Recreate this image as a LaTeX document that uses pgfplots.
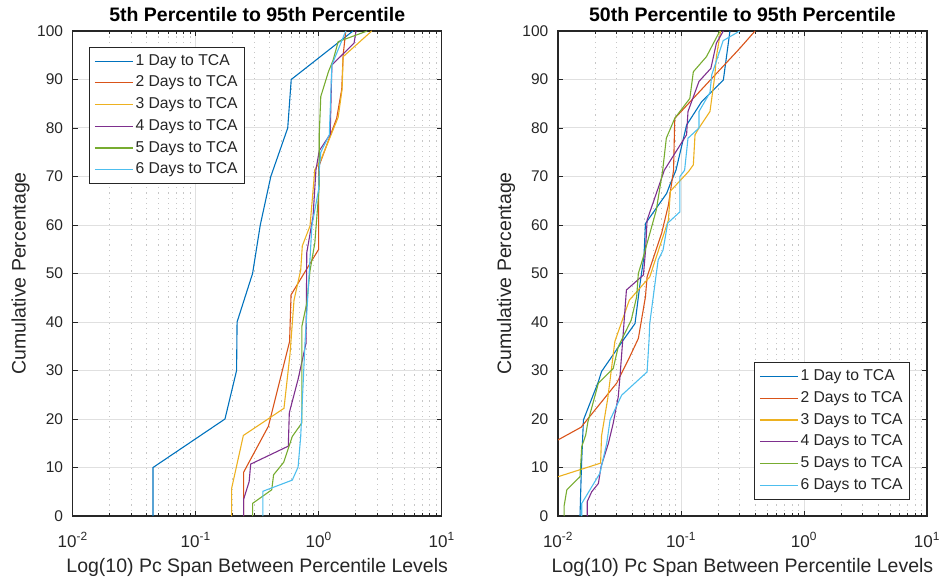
\documentclass[border=0pt]{standalone}
\usepackage{fontspec}
\setmainfont{Liberation Sans}
\usepackage{pgfplots}
\pgfplotsset{compat=1.18}
\pgfkeys{/pgf/number format/assume math mode=true}
\definecolor{c1}{rgb}{0,0.447,0.741}
\definecolor{c2}{rgb}{0.85,0.325,0.098}
\definecolor{c3}{rgb}{0.929,0.694,0.125}
\definecolor{c4}{rgb}{0.494,0.184,0.556}
\definecolor{c5}{rgb}{0.466,0.674,0.188}
\definecolor{c6}{rgb}{0.301,0.745,0.933}
\definecolor{axc}{HTML}{262626}
\pgfplotsset{legend image code/.code={\draw[#1] (0pt,0pt) -- (38pt,0pt);}}
\pgfplotsset{
  every axis/.append style={
  scale only axis, width=369pt, height=485pt,
  xmin=0.01, xmax=10, ymin=0, ymax=100,
  xtick={0.01,0.1,1,10},
  xticklabels={10\textsuperscript{-2},10\textsuperscript{-1},10\textsuperscript{0},10\textsuperscript{1}},
  minor xtick={0.02,0.03,0.04,0.05,0.06,0.07,0.08,0.09,0.2,0.3,0.4,0.5,0.6,0.7,0.8,0.9,2,3,4,5,6,7,8,9},
  ytick={0,10,20,30,40,50,60,70,80,90,100},
  xmajorgrids, ymajorgrids, xminorgrids,
  major grid style={color=black!12, line width=1pt},
  minor grid style={color=black!22, dash pattern=on 1.2pt off 4pt, line width=0.9pt},
  axis line style={axc, line width=1.1pt},
  tick style={axc, line width=0.9pt},
  major tick length=5pt, minor tick length=3pt,
  xticklabel style={font=\fontsize{17}{17}\selectfont, text=axc, anchor=base, inner sep=0pt, yshift=-31pt},
  yticklabel style={font=\fontsize{15.5}{16}\selectfont, text=axc, anchor=east, inner sep=0pt, xshift=-9.5pt},
  label style={font=\fontsize{19.5}{20}\selectfont, text=axc},
  xlabel style={at={(axis description cs:0.5,-0.1175)}, anchor=base},
  ylabel style={at={(axis description cs:-0.141,0.5)}, anchor=center},
  title style={font=\bfseries\fontsize{19.5}{20}\selectfont, text=black, at={(axis description cs:0.5,1.0192)}, anchor=base, yshift=-5.5pt},
  legend style={draw=axc, line width=0.8pt, fill=white, font=\fontsize{15.7}{16}\selectfont, text=axc, row sep=3.1pt, inner xsep=5pt, inner ysep=4.5pt, cells={anchor=west}, nodes={inner sep=2pt, text height=11.3pt, text depth=3.3pt}},
  xlabel={Log(10) Pc Span Between Percentile Levels},
  ylabel={Cumulative Percentage},
 },
 every axis plot/.append style={line width=1.1pt, mark=none},
}
\begin{document}
\begin{tikzpicture}
\useasboundingbox (0,0) rectangle (940pt,582pt);
\begin{semilogxaxis}[at={(72.7pt,66pt)}, anchor=south west,
  title={5th Percentile to 95th Percentile},
  legend style={at={(0.0442,0.967)}, anchor=north west}]
\addplot[c1] coordinates {(0.045,0)(0.045,10)(0.173,20)(0.215,30)(0.217,40)(0.29,50)(0.335,60)(0.408,70)(0.56,80)(0.598,90)(1.9,100)};
\addplot[c2] coordinates {(0.245,0)(0.245,9)(0.39,18.5)(0.58,36)(0.596,45.6)(1.0,55)(1.0,72)(1.40,82)(1.54,88)(1.58,95)(1.66,100)};
\addplot[c3] coordinates {(0.196,0)(0.196,5.7)(0.244,16.6)(0.522,22.2)(0.585,33.5)(0.63,44.5)(0.714,50.7)(0.736,55.7)(0.85,59.8)(0.93,71.4)(1.04,73.4)(1.44,82.2)(1.55,88)(1.58,94.7)(2.70,100)};
\addplot[c4] coordinates {(0.245,0)(0.245,3.4)(0.272,7.1)(0.28,10.7)(0.566,14.4)(0.577,21.3)(0.68,28.2)(0.79,35.7)(0.80,54.3)(0.90,61.8)(0.95,71.4)(1.01,75.3)(1.24,78.7)(1.28,93)(1.94,97.5)(2.01,100)};
\addplot[c5] coordinates {(0.29,0)(0.29,2.6)(0.415,5.4)(0.43,8.5)(0.52,11.1)(0.61,16.4)(0.73,19.2)(0.73,39.1)(0.80,43.9)(0.85,50.6)(0.93,56.3)(1.01,68)(1.01,78.6)(1.04,86.5)(1.2,91.6)(1.31,94)(1.44,97.8)(2.48,100)};
\addplot[c6] coordinates {(0.352,0)(0.352,5.1)(0.61,7.4)(0.68,10.1)(0.714,16.4)(0.774,35.7)(0.84,50.7)(0.88,59.8)(1.0,67.4)(1.01,71.4)(1.04,75)(1.22,78.6)(1.28,93)(1.66,100)};
\legend{1 Day to TCA,2 Days to TCA,3 Days to TCA,4 Days to TCA,5 Days to TCA,6 Days to TCA}
\end{semilogxaxis}
\begin{semilogxaxis}[at={(558pt,66pt)}, anchor=south west,
  title={50th Percentile to 95th Percentile},
  legend style={at={(0.954,0.0344)}, anchor=south east}]
\addplot[c1] coordinates {(0.0151,0)(0.0155,10)(0.0161,19.8)(0.0213,27.7)(0.0226,29.8)(0.034,36.3)(0.0423,39.7)(0.0465,48)(0.05,53.5)(0.0514,60.3)(0.0764,66.5)(0.081,68.2)(0.091,71.3)(0.111,80.6)(0.147,85.4)(0.221,89.9)(0.25,100)};
\addplot[c2] coordinates {(0.00075,0)(0.0154,18.3)(0.030,27.4)(0.0373,32.2)(0.045,36.6)(0.0514,45.2)(0.053,49.3)(0.0696,58.3)(0.079,64.1)(0.087,71.3)(0.089,82)(0.30,96.4)(0.40,100)};
\addplot[c3] coordinates {(0.001,0)(0.0222,10.9)(0.0226,16.5)(0.0254,24.3)(0.029,36)(0.038,44.5)(0.0557,49.3)(0.079,61)(0.082,67)(0.115,71)(0.126,72.4)(0.13,78.6)(0.14,80)(0.172,83.4)(0.188,90.6)(0.194,94.7)(0.21,100)};
\addplot[c4] coordinates {(0.0173,0)(0.0173,3)(0.0188,5)(0.0213,6.7)(0.0224,10.2)(0.0257,15)(0.0281,19.1)(0.0309,24.6)(0.0319,28.7)(0.0336,36.3)(0.036,46.6)(0.0495,49.7)(0.0515,54.8)(0.053,61)(0.0732,71.3)(0.111,78.6)(0.114,83.4)(0.14,89.6)(0.175,92.3)(0.194,97.5)(0.221,100)};
\addplot[c5] coordinates {(0.0112,0)(0.0112,2)(0.0118,5.4)(0.0151,8.1)(0.0156,14.3)(0.0168,16.7)(0.0175,19.4)(0.0213,27.4)(0.0281,30.4)(0.0309,34.9)(0.0394,40.4)(0.0436,45.2)(0.045,50)(0.0495,53.5)(0.063,63.1)(0.071,71.3)(0.076,77.9)(0.089,82)(0.118,86.1)(0.126,91.6)(0.161,94.7)(0.207,100)};
\addplot[c6] coordinates {(0.0156,0)(0.0156,2.6)(0.0188,6)(0.0219,8.8)(0.0249,15)(0.0265,19.8)(0.0329,24.9)(0.053,29.7)(0.055,36.3)(0.0557,39.7)(0.063,50)(0.0653,52.8)(0.0714,54.8)(0.078,60.4)(0.098,62.7)(0.098,70)(0.107,71.3)(0.114,77.9)(0.14,80)(0.14,83.4)(0.172,87.3)(0.178,91)(0.22,98)(0.30,100)};
\legend{1 Day to TCA,2 Days to TCA,3 Days to TCA,4 Days to TCA,5 Days to TCA,6 Days to TCA}
\end{semilogxaxis}
\end{tikzpicture}
\end{document}
